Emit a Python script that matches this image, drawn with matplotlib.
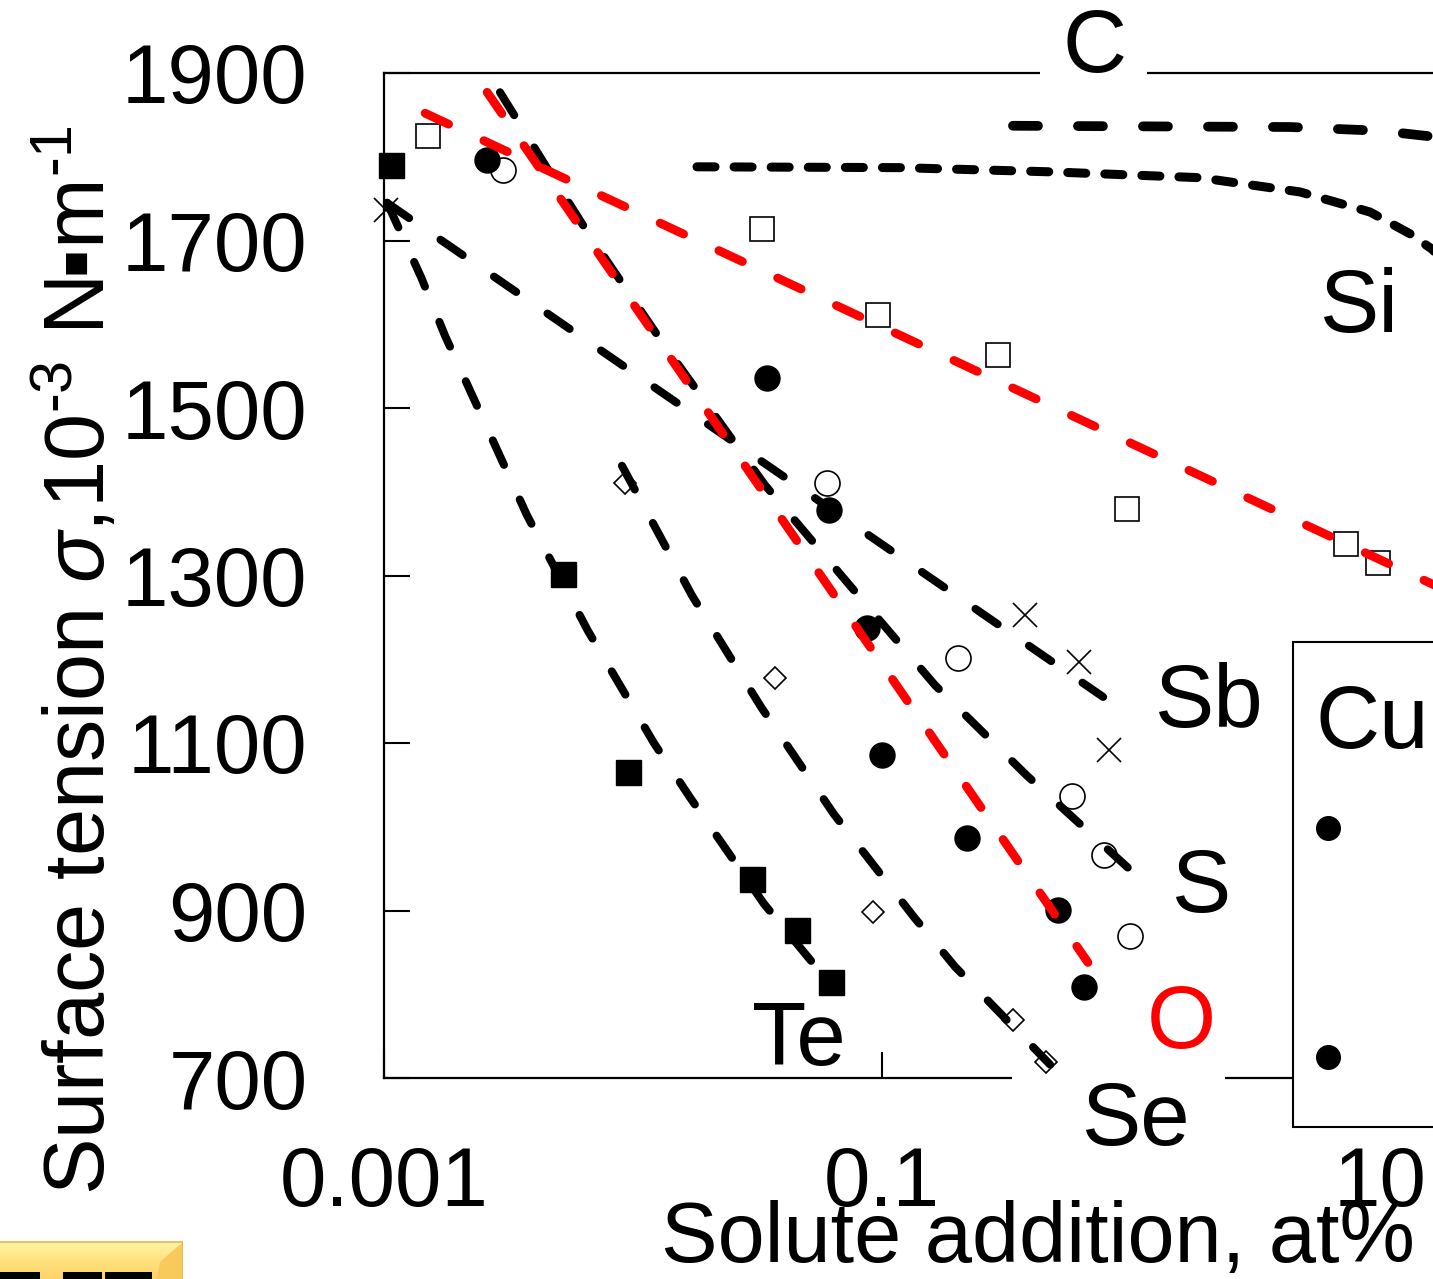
import numpy as np
import matplotlib
matplotlib.use("Agg")
import matplotlib.pyplot as plt
from matplotlib.patches import Rectangle, Polygon
from matplotlib.colors import LinearSegmentedColormap
from matplotlib.ticker import NullLocator

plt.rcParams['font.family'] = ['Liberation Sans', 'DejaVu Sans']
plt.rcParams['mathtext.fontset'] = 'custom'
plt.rcParams['mathtext.rm'] = 'Liberation Sans'
plt.rcParams['mathtext.it'] = 'Liberation Sans:italic'
plt.rcParams['mathtext.fallback'] = 'stixsans'
plt.rcParams['lines.scale_dashes'] = False

W, H = 1433, 1279

# ---- values ----
# Te : filled squares + dashed curve
te_x = [0.00107, 0.00523, 0.00955, 0.0300, 0.0456, 0.0624]
te_y = [1790, 1302, 1065, 938, 877, 815]
te_fit_x = [0.00103, 0.00141, 0.00176, 0.00375, 0.00659, 0.01213, 0.01694, 0.03357, 0.05286]
te_fit_y = [1745, 1656, 1586, 1372, 1234, 1100, 1035, 908, 837]

# Se : open diamonds
se_x = [0.00929, 0.03714, 0.09207, 0.3357, 0.4560]
se_y = [1410, 1178, 898, 769, 719]
se_fit_x = [0.00903, 0.01726, 0.03267, 0.06411, 0.1345, 0.1963, 0.4732]
se_fit_y = [1431, 1276, 1143, 1015, 892, 833, 716]

# S : open circles
s_x = [0.003006, 0.06012, 0.2018, 0.5794, 0.7798, 0.9908]
s_y = [1784, 1410, 1202, 1037, 966, 870]
s_fit_x = [0.002923, 0.004773, 0.006594, 0.01307, 0.03388, 0.07432, 0.1633, 0.3820, 0.9727]
s_fit_y = [1877, 1775, 1709, 1579, 1408, 1288, 1169, 1061, 951]

# O : filled circles, red line
o_x = [0.002594, 0.03451, 0.06124, 0.0871, 0.1, 0.2193, 0.5093, 0.6473]
o_y = [1796, 1536, 1378, 1237, 1086, 987, 901, 809]
o_fit_x = [0.002595, 0.6714]
o_fit_y = [1877, 838]

# Sb : crosses
sb_x = [0.001019, 0.3749, 0.6180, 0.8168]
sb_y = [1736, 1253, 1197, 1092]
sb_fit_x = [0.001028, 0.7727]
sb_fit_y = [1745, 1155]

# Si : open squares, red line
si_x = [0.001502, 0.03296, 0.09641, 0.2925, 0.9638, 7.30, 9.81]
si_y = [1825, 1714, 1611, 1563, 1379, 1338, 1315]
si_fit_x = [0.001462, 30.3]
si_fit_y = [1852, 1252]

# Si (upper curve, short dashes) and C
si_curve_x = [0.01807, 0.1180, 0.4732, 1.892, 4.77, 9.12, 13.2, 16.3, 20.9]
si_curve_y = [1788, 1787, 1782, 1775, 1758, 1734, 1708, 1689, 1647]
c_x = [0.3357, 4.35, 10, 16.3, 20]
c_y = [1837, 1835.5, 1831, 1824, 1816]

xticks = [0.001, 0.1, 10]
xtick_labels = ['0.001', '0.1', '10']
yticks = [700, 900, 1100, 1300, 1500, 1700, 1900]

fig = plt.figure(figsize=(W / 100, H / 100), dpi=100)
ax = fig.add_axes([384 / W, (H - 1078) / H, (1629 - 384) / W, (1078 - 73) / H])
ax.set_xscale('log')
ax.set_xlim(0.001, 100)
ax.set_ylim(700, 1900)

for sp in ax.spines.values():
    sp.set_linewidth(1.6)

ax.set_xticks(xticks)
ax.set_xticklabels(xtick_labels)
ax.xaxis.set_minor_locator(NullLocator())
ax.set_yticks(yticks)
ax.tick_params(axis='both', direction='in', length=19, width=1.5, labelsize=60)
ax.tick_params(axis='x', pad=48)
ax.tick_params(axis='y', pad=55)

# markers (under the lines)
mk = dict(linestyle='none', zorder=3, clip_on=False)
ax.plot(te_x, te_y, marker='s', ms=18, mfc='black', mec='black', **mk)
ax.plot(se_x, se_y, marker='D', ms=11.5, mfc='white', mec='black', mew=1.2, **mk)
ax.plot(s_x, s_y, marker='o', ms=18, mfc='white', mec='black', mew=1.2, **mk)
ax.plot(o_x, o_y, marker='o', ms=18, mfc='black', mec='black', **mk)
ax.plot(sb_x, sb_y, marker='x', ms=17, mec='black', mew=1.2, **mk)
ax.plot(si_x, si_y, marker='s', ms=17, mfc='white', mec='black', mew=1.2, **mk)

# dashed lines
blk = dict(color='black', lw=5.8, dashes=(19.4, 27.4), dash_capstyle='round', zorder=4)
ax.plot(te_fit_x, te_fit_y, **blk)
ax.plot(se_fit_x, se_fit_y, **blk)
ax.plot(s_fit_x, s_fit_y, **blk)
ax.plot(sb_fit_x, sb_fit_y, **blk)
red = dict(color='#ff0000', lw=6.3, dashes=(18.7, 28), dash_capstyle='round', zorder=4)
ax.plot(o_fit_x, o_fit_y, **red)
ax.plot(si_fit_x, si_fit_y, **red)
ax.plot(c_x, c_y, color='black', lw=7, dashes=(18, 28.8), dash_capstyle='round', zorder=4)
ax.plot(si_curve_x, si_curve_y, color='black', lw=6.5, dashes=(13, 13.7),
        dash_capstyle='round', zorder=4)

# white gaps in the frame behind the C and Se labels
ax.add_patch(Rectangle((0.431, 1880), 1.16 - 0.431, 60, fc='white', ec='none',
                       zorder=2.6, clip_on=False))
ax.add_patch(Rectangle((0.3326, 650), 2.385 - 0.3326, 54, fc='white', ec='none',
                       zorder=2.6, clip_on=False))

lab = dict(fontsize=64, va='baseline', zorder=5, clip_on=False)
ax.text(0.717, 1901, 'C', ha='center', **lab)
ax.text(5.74, 1591, 'Si', ha='left', **lab)
ax.text(1.249, 1119, 'Sb', ha='left', **lab)
ax.text(1.461, 898, 'S', ha='left', **lab)
ax.text(1.16, 736, 'O', ha='left', color='#ff0000', **lab)
ax.text(0.6353, 620, 'Se', ha='left', **lab)
ax.text(0.03006, 715.5, 'Te', ha='left', **lab)

# legend box (cut by the picture edge)
ax.add_patch(Rectangle((4.473, 641.5), 100 - 4.473, 1220.6 - 641.5, fc='white',
                       ec='black', lw=1.5, zorder=5, clip_on=False))
ax.text(5.53, 1094, 'Cu', ha='left', fontsize=64, va='baseline', zorder=6, clip_on=False)
leg_x = [6.18, 6.18]
leg_y = [998.5, 725]
ax.plot(leg_x, leg_y, linestyle='none', marker='o', ms=17, color='black',
        zorder=6, clip_on=False)

# axis titles
fig.text(1038 / W, 17 / H, 'Solute addition, at%', ha='center', va='baseline',
         fontsize=61)
fig.text(105 / W, 1 - 660 / H,
         r'Surface tension $\sigma$,10$^{\text{-3}}$ N$^{\!}$▪m$^{\text{-1}}$',
         rotation=90, rotation_mode='anchor', ha='center', va='baseline',
         fontsize=61)

# slide button in the lower-left corner
bax = fig.add_axes([0, 0, 183 / W, (H - 1241) / H])
bax.set_xlim(0, 183)
bax.set_ylim(1279, 1241)
bax.axis('off')
cmap = LinearSegmentedColormap.from_list('btn', ['#fff7a6', '#ffe27e', '#ffd36a'])
grad = np.linspace(0, 1, 50).reshape(-1, 1)
bax.imshow(grad, extent=[0, 183, 1279, 1241], aspect='auto', cmap=cmap, zorder=1)
bax.add_patch(Polygon([(157, 1279), (160, 1262), (183, 1242), (183, 1279)],
                      closed=True, fc='#f9c95c', ec='none', zorder=2))
bax.plot([0, 183, 183], [1242, 1242, 1279], color='#e6b655', lw=1.2, zorder=3)
for x0, x1 in [(0, 40), (63, 102), (105, 152)]:
    bax.add_patch(Rectangle((x0, 1272), x1 - x0, 8, fc='black', ec='none', zorder=4))

fig.savefig('out.png', dpi=100)
